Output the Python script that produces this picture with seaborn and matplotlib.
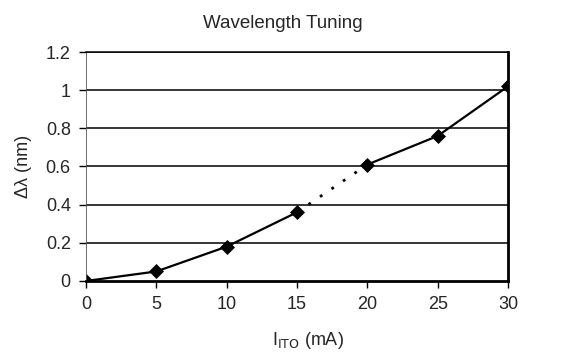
import matplotlib
matplotlib.use('Agg')
import matplotlib.pyplot as plt
import seaborn as sns
import pandas as pd

sns.set_style('white')
plt.rcParams['font.family'] = ['Liberation Sans', 'DejaVu Sans']

current_ma = [0, 5, 10, 15, 20, 25, 30]
delta_lambda = [0.0, 0.05, 0.18, 0.36, 0.61, 0.76, 1.02]

df = pd.DataFrame({'I': current_ma, 'dl': delta_lambda})
low = df[df['I'] <= 15]
gap = df[(df['I'] >= 15) & (df['I'] <= 20)]
high = df[df['I'] >= 20]

fig = plt.figure(figsize=(5.66, 3.55), dpi=100)
ax = fig.add_axes([0.152, 0.2085, 0.7455, 0.645])

for ylev in [0.2, 0.4, 0.6, 0.8, 1.0, 1.2]:
    ax.axhline(ylev, color='black', lw=1.1, zorder=1)

sns.lineplot(data=low, x='I', y='dl', color='black', lw=1.6, ax=ax, zorder=3)
sns.lineplot(data=gap, x='I', y='dl', color='black', lw=2, ax=ax, zorder=3,
             linestyle=(0, (1, 4)))
sns.lineplot(data=high, x='I', y='dl', color='black', lw=1.6, ax=ax, zorder=3)
sns.scatterplot(data=df, x='I', y='dl', color='black', marker='D', s=50,
                edgecolor='black', ax=ax, zorder=4)

ax.set_xlim(0, 30)
ax.set_ylim(0, 1.2)
ax.set_xticks([0, 5, 10, 15, 20, 25, 30])
ax.set_xticklabels(['0', '5', '10', '15', '20', '25', '30'])
ax.set_yticks([0, 0.2, 0.4, 0.6, 0.8, 1.0, 1.2])
ax.set_yticklabels(['0', '0.2', '0.4', '0.6', '0.8', '1', '1.2'])
ax.tick_params(axis='both', labelsize=13, direction='out', length=5,
               width=1, color='black', pad=6)
ax.tick_params(axis='x', pad=6)
ax.xaxis.set_ticks_position('bottom')
ax.yaxis.set_ticks_position('left')

ax.spines['left'].set_linewidth(0.6)
ax.spines['left'].set_color('#555555')
ax.spines['top'].set_linewidth(1.1)
ax.spines['bottom'].set_linewidth(2.0)
ax.spines['right'].set_linewidth(2.0)
for s in ax.spines.values():
    s.set_zorder(5)
for side in ['top', 'bottom', 'right']:
    ax.spines[side].set_color('black')

ax.set_xlabel(r'I$_{\mathrm{ITO}}$ (mA)', fontsize=13)
ax.xaxis.set_label_coords(0.525, -0.215)
ax.set_ylabel('Δλ (nm)', fontsize=13, labelpad=10)
fig.text(0.5, 0.92, 'Wavelength Tuning', ha='center', fontsize=13.5)

fig.savefig('out.png', dpi=100)
